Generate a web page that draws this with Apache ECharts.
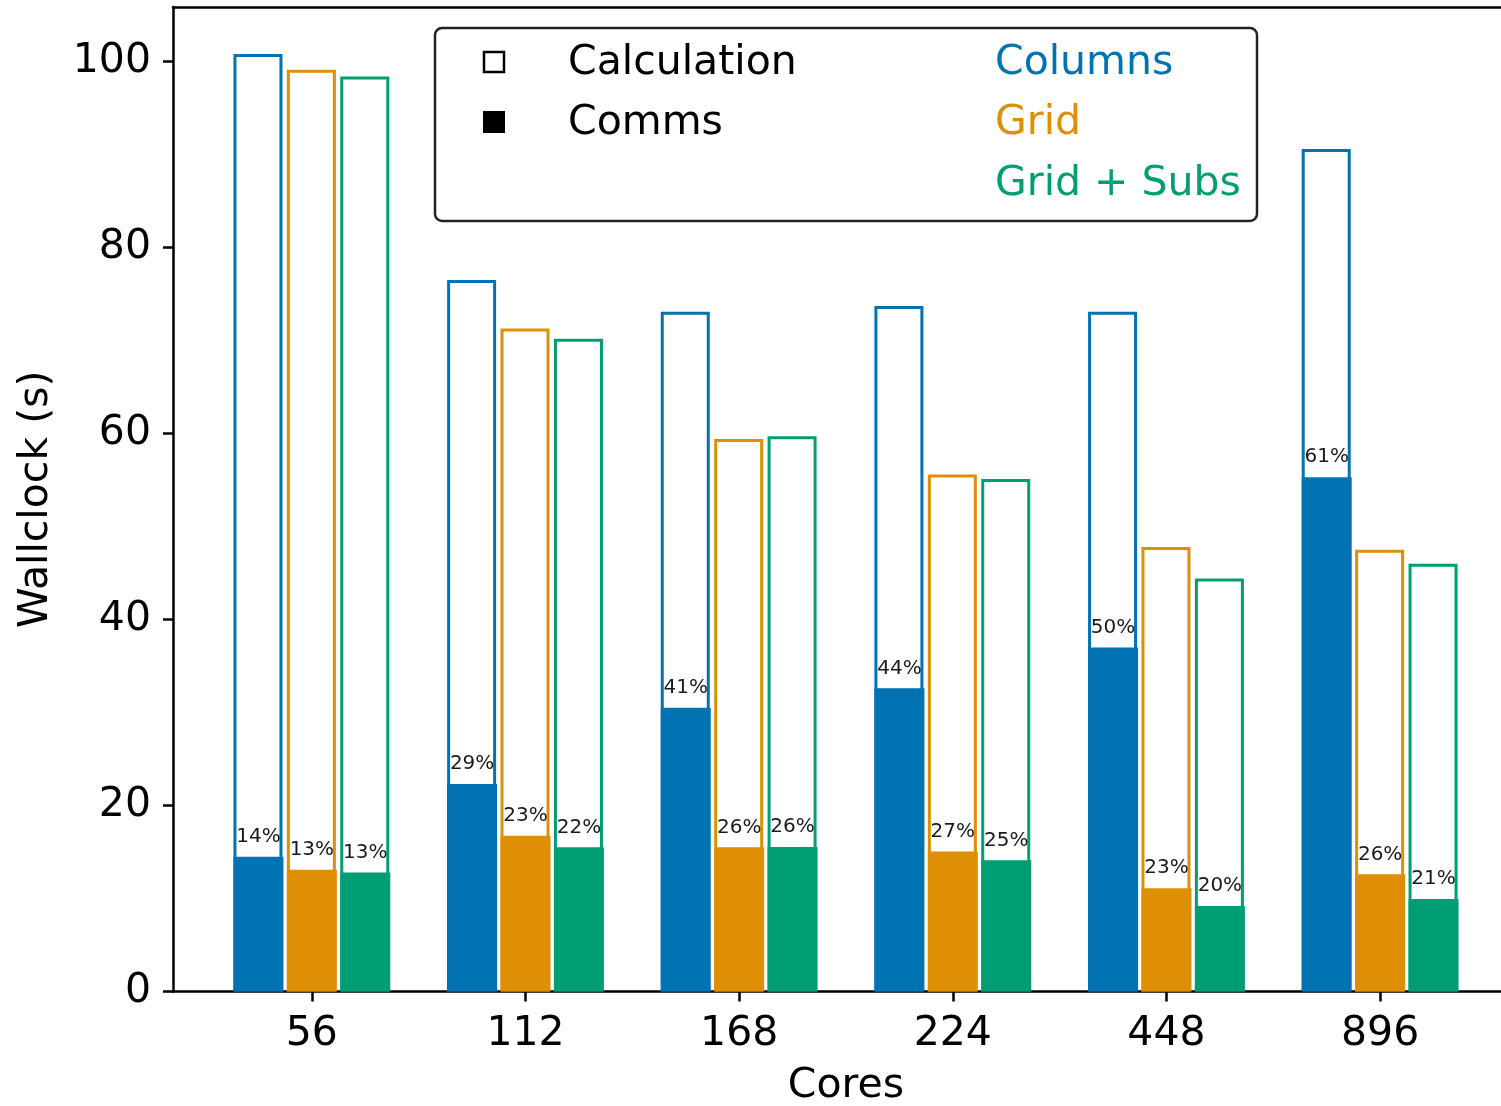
<!DOCTYPE html>
<html>
<head>
<meta charset="utf-8">
<title>Wallclock vs cores</title>
<script src="https://cdn.jsdelivr.net/npm/echarts@6/dist/echarts.min.js"></script>
<style>
  html, body { margin: 0; padding: 0; background: #fff; }
  #chart { width: 1501px; height: 1106px; }
</style>
</head>
<body>
<div id="chart"></div>
<script>
// Core counts on the x axis
const cores = ['56', '112', '168', '224', '448', '896'];
const yTicks = [0, 20, 40, 60, 80, 100];

// Decomposition variants
const variantNames = ['Columns', 'Grid', 'Grid + Subs'];
const variantColors = ['#0173b2', '#de8f05', '#029e73'];
const partNames = ['Calculation', 'Comms'];

// Total wallclock (s) per variant
const columnsTotal  = [100.8, 76.5, 73.1, 73.7, 73.1, 90.6];
const gridTotal     = [99.1, 71.3, 59.4, 55.6, 47.8, 47.5];
const gridSubsTotal = [98.4, 70.2, 59.7, 55.1, 44.4, 46.0];

// Communication time (s) per variant
const columnsComms  = [14.5, 22.3, 30.5, 32.6, 37.0, 55.3];
const gridComms     = [13.1, 16.75, 15.5, 15.05, 11.1, 12.6];
const gridSubsComms = [12.8, 15.5, 15.55, 14.1, 9.2, 9.95];

const totals = [columnsTotal, gridTotal, gridSubsTotal];
const comms = [columnsComms, gridComms, gridSubsComms];

const FONT = 'DejaVu Sans';
const BIG = 41;
const BAR_W = 49;
const slot = 0.25; // spacing between bars within a group, in x units

const series = [];
// Outlined bars: total time
totals.forEach((vals, s) => {
  const off = (s - 1) * slot;
  series.push({
    name: variantNames[s] + ' total',
    type: 'bar',
    xAxisIndex: 0,
    barWidth: BAR_W,
    barGap: '-100%',
    z: 2,
    itemStyle: { color: '#ffffff', borderColor: variantColors[s], borderWidth: 3 },
    emphasis: { disabled: true },
    data: vals.map((v, i) => [i + off, v])
  });
});
// Filled bars: comms time, labelled with share of the total
comms.forEach((vals, s) => {
  const off = (s - 1) * slot;
  series.push({
    name: variantNames[s] + ' comms',
    type: 'bar',
    xAxisIndex: 0,
    barWidth: BAR_W + 1,
    barGap: '-100%',
    z: 3,
    itemStyle: { color: variantColors[s] },
    emphasis: { disabled: true },
    label: {
      show: true,
      position: 'top',
      distance: 10,
      fontFamily: FONT,
      fontSize: 20,
      color: '#1a1a1a',
      formatter: p => Math.floor(100 * vals[p.dataIndex] / totals[s][p.dataIndex]) + '%'
    },
    data: vals.map((v, i) => [i + off, v])
  });
});

// Legend box drawn as graphic elements
const LX = 435, LY = 28;
const legendGraphics = [
  { type: 'rect', shape: { x: LX, y: LY, width: 822, height: 193, r: 7 },
    style: { fill: '#ffffff', stroke: '#222', lineWidth: 2.5 }, z: 10 },
  { type: 'rect', shape: { x: 484, y: 52, width: 20, height: 20 },
    style: { fill: '#ffffff', stroke: '#000', lineWidth: 2.5 }, z: 11 },
  { type: 'rect', shape: { x: 483, y: 111, width: 22, height: 22 },
    style: { fill: '#000' }, z: 11 }
];
partNames.forEach((t, i) => {
  legendGraphics.push({ type: 'text', x: 568, y: 63 + i * 60.5, z: 11,
    style: { text: t, font: BIG + 'px "' + FONT + '"', fill: '#000', verticalAlign: 'middle' } });
});
variantNames.forEach((t, i) => {
  legendGraphics.push({ type: 'text', x: 995, y: 63 + i * 60.5, z: 11,
    style: { text: t, font: BIG + 'px "' + FONT + '"', fill: variantColors[i], verticalAlign: 'middle' } });
});

const xIdx = cores.map((_, i) => i);
const option = {
  animation: false,
  backgroundColor: '#ffffff',
  grid: { left: 173, top: 7, right: -18, bottom: 114.5, containLabel: false, outerBoundsMode: 'none' },
  xAxis: [
    {
      type: 'value', position: 'bottom', min: -0.65, max: 5.65,
      name: 'Cores', nameLocation: 'middle', nameGap: 74,
      nameTextStyle: { fontFamily: FONT, fontSize: BIG, color: '#000' },
      splitLine: { show: false },
      axisLine: { show: true, onZero: false, lineStyle: { color: '#000', width: 2.5 } },
      axisTick: { show: true, length: 10, customValues: xIdx, lineStyle: { color: '#000', width: 2.5 } },
      axisLabel: { show: true, customValues: xIdx, margin: 22, fontFamily: FONT, fontSize: BIG, color: '#000',
        formatter: v => cores[Math.round(v)] }
    },
    {
      type: 'value', position: 'top', min: -0.65, max: 5.65,
      splitLine: { show: false },
      axisLine: { show: true, onZero: false, lineStyle: { color: '#000', width: 2.5 } },
      axisTick: { show: false }, axisLabel: { show: false }
    }
  ],
  yAxis: {
    type: 'value', min: 0, max: 105.86,
    name: 'Wallclock (s)', nameLocation: 'middle', nameGap: 116,
    nameTextStyle: { fontFamily: FONT, fontSize: BIG, color: '#000' },
    splitLine: { show: false },
    axisLine: { show: true, onZero: false, lineStyle: { color: '#000', width: 2.5 } },
    axisTick: { show: true, length: 10, customValues: yTicks, lineStyle: { color: '#000', width: 2.5 } },
    axisLabel: { show: true, customValues: yTicks, margin: 22, fontFamily: FONT, fontSize: BIG, color: '#000' }
  },
  series: series,
  graphic: legendGraphics
};

const chart = echarts.init(document.getElementById('chart'), null, { renderer: 'canvas' });
chart.setOption(option);
</script>
</body>
</html>
